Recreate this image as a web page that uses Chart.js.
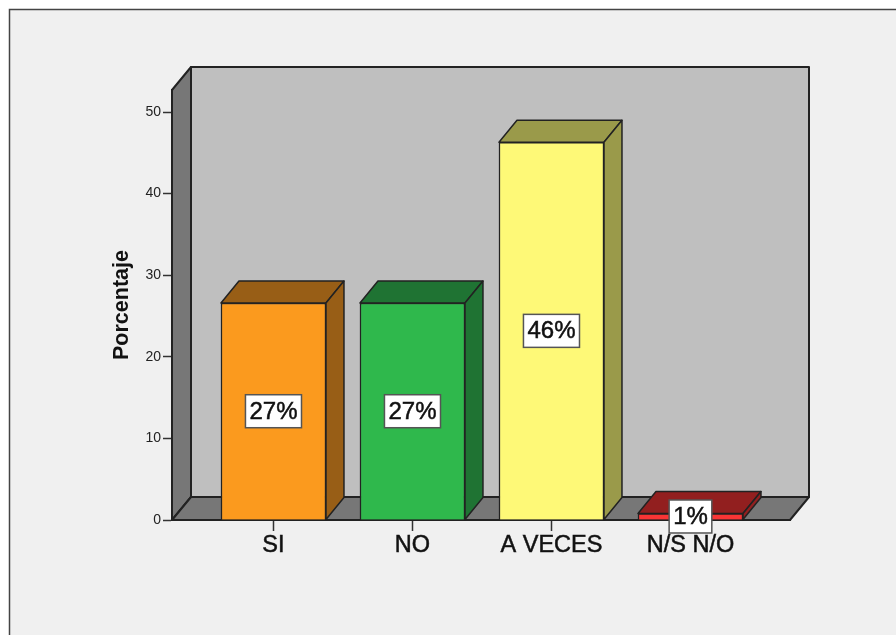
<!DOCTYPE html>
<html>
<head>
<meta charset="utf-8">
<style>
  html, body { margin: 0; padding: 0; background: #fff; overflow: hidden; }
  canvas { display: block; }
</style>
<script src="https://cdn.jsdelivr.net/npm/chart.js@4"></script>
</head>
<body>
<canvas id="bars" width="896" height="635"></canvas>
<script>
const categories = ['SI', 'NO', 'A VECES', 'N/S N/O'];
const values = [26.6, 26.6, 46.3, 0.8];
const valueLabels = ['27%', '27%', '46%', '1%'];
const frontColors = ['#fb9a1e', '#2fb84c', '#fef977', '#f93535'];
const depthColors = ['#985e16', '#1f7333', '#9a9a4a', '#921f1f'];
const yTicks = [0, 10, 20, 30, 40, 50];

const INK = '#222';
const FONT = '"Liberation Sans", Arial, sans-serif';

function poly(ctx, pts, fill) {
    ctx.beginPath();
    pts.forEach((p, i) => i ? ctx.lineTo(p[0], p[1]) : ctx.moveTo(p[0], p[1]));
    ctx.closePath();
    ctx.fillStyle = fill;
    ctx.fill();
    ctx.stroke();
}

// SPSS style 3D box: panel frame, walls and floor behind the bars
const panel3d = {
    id: 'panel3d',
    beforeDraw(chart) {
        const { ctx, chartArea: a } = chart;
        const dx = 19, dy = 23;
        ctx.save();
        ctx.fillStyle = '#f0f0f0';
        ctx.fillRect(9, 9, 900, 640);
        ctx.strokeStyle = '#444';
        ctx.lineWidth = 1.5;
        ctx.strokeRect(9.5, 9.5, 900, 640);
        ctx.strokeStyle = INK;
        ctx.lineWidth = 2;
        ctx.lineJoin = 'round';
        poly(ctx, [[a.left + dx, a.top - dy], [a.right + dx, a.top - dy], [a.right + dx, a.bottom - dy], [a.left + dx, a.bottom - dy]], '#bfbfbf');
        poly(ctx, [[a.left, a.top], [a.left + dx, a.top - dy], [a.left + dx, a.bottom - dy], [a.left, a.bottom]], '#777');
        poly(ctx, [[a.left, a.bottom], [a.right, a.bottom], [a.right + dx, a.bottom - dy], [a.left + dx, a.bottom - dy]], '#777');
        ctx.restore();
    },
    beforeDatasetsDraw(chart) {
        const ctx = chart.ctx;
        const dx = 18, dy = 22;
        ctx.save();
        ctx.strokeStyle = INK;
        ctx.lineWidth = 1.5;
        ctx.lineJoin = 'round';
        chart.getDatasetMeta(0).data.forEach((bar, i) => {
            const l = bar.x - bar.width / 2, r = bar.x + bar.width / 2;
            poly(ctx, [[l, bar.y], [l + dx, bar.y - dy], [r + dx, bar.y - dy], [r, bar.y]], depthColors[i]);
            poly(ctx, [[r, bar.y], [r + dx, bar.y - dy], [r + dx, bar.base - dy], [r, bar.base]], depthColors[i]);
        });
        ctx.restore();
    },
    afterDatasetsDraw(chart) {
        const ctx = chart.ctx;
        ctx.save();
        ctx.font = '24px ' + FONT;
        ctx.textAlign = 'center';
        ctx.textBaseline = 'middle';
        chart.getDatasetMeta(0).data.forEach((bar, i) => {
            const cy = (bar.y + bar.base) / 2;
            const w = ctx.measureText(valueLabels[i]).width + 8, h = 33;
            ctx.fillStyle = '#fff';
            ctx.fillRect(bar.x - w / 2, cy - h / 2, w, h);
            ctx.strokeStyle = '#555';
            ctx.lineWidth = 1.5;
            ctx.strokeRect(bar.x - w / 2, cy - h / 2, w, h);
            ctx.fillStyle = '#111';
            ctx.strokeStyle = '#111';
            ctx.lineWidth = 0.5;
            ctx.fillText(valueLabels[i], bar.x, cy + 1);
            ctx.strokeText(valueLabels[i], bar.x, cy + 1);
        });
        ctx.restore();
    }
};

new Chart(document.getElementById('bars'), {
    type: 'bar',
    data: {
        datasets: [{
            data: values.map((v, i) => ({ x: i, y: v })),
            backgroundColor: frontColors,
            borderColor: INK,
            borderWidth: 1.5,
            barThickness: 105
        }]
    },
    options: {
        responsive: false,
        animation: false,
        layout: { padding: { top: 90, right: 106, left: 0, bottom: 0 } },
        plugins: { legend: { display: false }, tooltip: { enabled: false } },
        scales: {
            x: {
                type: 'linear',
                offset: false,
                min: -0.73,
                max: 3.716,
                afterFit(scale) { scale.height = 115; },
                afterBuildTicks(scale) {
                    scale.ticks = categories.map((c, i) => ({ value: i }));
                },
                border: { color: INK, width: 2 },
                grid: { offset: false, drawOnChartArea: false, tickLength: 11, tickColor: '#333', tickWidth: 1.5 },
                ticks: {
                    autoSkip: false,
                    maxRotation: 0,
                    padding: 0,
                    color: '#111',
                    textStrokeColor: '#111',
                    textStrokeWidth: 0.5,
                    font: { family: FONT, size: 23.5 },
                    callback: v => categories[v]
                }
            },
            y: {
                min: 0,
                max: 52.7,
                afterFit(scale) { scale.width = 172; },
                afterBuildTicks(scale) {
                    scale.ticks = yTicks.map(v => ({ value: v }));
                },
                border: { color: INK, width: 2 },
                grid: { drawOnChartArea: false, tickLength: 9, tickColor: '#333', tickWidth: 1.5 },
                title: {
                    display: true,
                    text: 'Porcentaje',
                    color: '#111',
                    padding: { top: 109, bottom: 0 },
                    font: { family: FONT, size: 21.5, weight: 'bold' }
                },
                ticks: {
                    padding: 2,
                    color: '#222',
                    font: { family: FONT, size: 14 }
                }
            }
        }
    },
    plugins: [panel3d]
});
</script>
</body>
</html>
